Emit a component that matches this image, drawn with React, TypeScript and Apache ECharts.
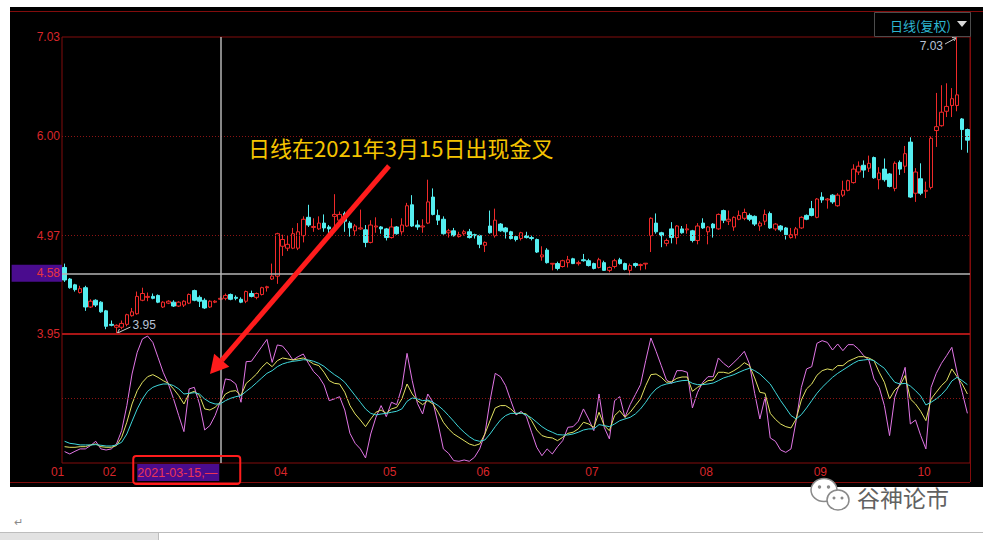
import React, { useEffect, useRef } from 'react';
import * as echarts from 'echarts';

// ---- trading calendar (month -> trading days) ----
const tradingDays: [string, number[]][] = [
  ['2021-01', [25, 26, 27, 28, 29]],
  ['2021-02', [1, 2, 3, 4, 5, 8, 9, 10, 18, 19, 22, 23, 24, 25, 26]],
  ['2021-03', [1, 2, 3, 4, 5, 8, 9, 10, 11, 12, 15, 16, 17, 18, 19, 22, 23, 24, 25, 26, 29, 30, 31]],
  ['2021-04', [1, 2, 6, 7, 8, 9, 12, 13, 14, 15, 16, 19, 20, 21, 22, 23, 26, 27, 28, 29, 30]],
  ['2021-05', [6, 7, 10, 11, 12, 13, 14, 17, 18, 19, 20, 21, 24, 25, 26, 27, 28, 31]],
  ['2021-06', [1, 2, 3, 4, 7, 8, 9, 10, 11, 15, 16, 17, 18, 21, 22, 23, 24, 25, 28, 29, 30]],
  ['2021-07', [1, 2, 5, 6, 7, 8, 9, 12, 13, 14, 15, 16, 19, 20, 21, 22, 23, 26, 27, 28, 29, 30]],
  ['2021-08', [2, 3, 4, 5, 6, 9, 10, 11, 12, 13, 16, 17, 18, 19, 20, 23, 24, 25, 26, 27, 30, 31]],
  ['2021-09', [1, 2, 3, 6, 7, 8, 9, 10, 13, 14, 15, 16, 17, 22, 23, 24, 27, 28, 29, 30]],
  ['2021-10', [8, 11, 12, 13, 14, 15, 18, 19]],
];
const dates: string[] = tradingDays.flatMap(([m, ds]) => ds.map((d) => `${m}-${d < 10 ? '0' + d : d}`));

// month tick labels shown on the bottom axis
const monthTicks = ['2021-01-25', '2021-02-08', '2021-04-01', '2021-05-06', '2021-06-01', '2021-07-01', '2021-08-02', '2021-09-01', '2021-10-08'];
const priceTicks = [3.95, 4.97, 6.0, 7.03];

// ---- daily candles ----
const openP = [
  4.64, 4.52, 4.46, 4.38, 4.43, 4.23, 4.30, 4.28, 4.19, 4.05,
  4.02, 4.02, 4.05, 4.14, 4.16, 4.30, 4.33, 4.34, 4.35, 4.23,
  4.27, 4.28, 4.24, 4.25, 4.27, 4.40, 4.33, 4.30, 4.23, 4.28,
  4.31, 4.32, 4.36, 4.33, 4.31, 4.29, 4.37, 4.33, 4.36, 4.43,
  4.52, 4.55, 4.86, 4.84, 4.84, 4.84, 4.97, 5.16, 5.055, 5.04,
  5.10, 5.06, 5.17, 5.13, 5.20, 5.10, 5.02, 5.04, 5.03, 4.90,
  5.06, 5.06, 5.04, 4.95, 5.06, 5.01, 5.07, 5.29, 5.08, 5.06,
  5.10, 5.37, 5.18, 5.14, 5.00, 5.02, 4.96, 4.99, 5.01, 4.98,
  4.97, 4.87, 5.07, 4.97, 5.09, 5.05, 5.01, 4.96, 4.94, 4.97,
  4.95, 4.93, 4.75, 4.82, 4.675, 4.68, 4.65, 4.69, 4.73, 4.68,
  4.72, 4.71, 4.68, 4.64, 4.69, 4.61, 4.65, 4.72, 4.68, 4.61,
  4.68, 4.66, 4.676, 4.97, 5.10, 5.00, 4.89, 5.04, 4.95, 5.04,
  5.03, 5.02, 4.92, 5.10, 5.01, 5.09, 5.04, 5.23, 5.12, 5.06,
  5.14, 5.15, 5.18, 5.17, 5.07, 5.12, 5.20, 5.04, 5.07, 5.05,
  4.95, 4.98, 5.05, 5.18, 5.25, 5.16, 5.37, 5.34, 5.39, 5.28,
  5.39, 5.44, 5.52, 5.63, 5.70, 5.67, 5.78, 5.55, 5.66, 5.61,
  5.46, 5.73, 5.69, 5.94, 5.41, 5.56, 5.43, 5.47, 6.06, 6.11,
  6.26, 6.32, 6.32, 6.18, 6.07,
];
const closeP = [
  4.51, 4.43, 4.41, 4.42, 4.23, 4.29, 4.25, 4.18, 4.03, 4.04,
  4.04, 4.06, 4.15, 4.18, 4.34, 4.37, 4.34, 4.32, 4.28, 4.28,
  4.29, 4.24, 4.28, 4.29, 4.36, 4.30, 4.29, 4.22, 4.29, 4.29,
  4.32, 4.35, 4.31, 4.32, 4.28, 4.39, 4.34, 4.37, 4.43, 4.44,
  4.55, 4.99, 4.93, 4.88, 4.99, 5.01, 5.14, 5.08, 5.065, 5.10,
  5.05, 5.04, 5.19, 5.19, 5.12, 5.05, 5.07, 5.05, 4.90, 5.08,
  5.07, 5.04, 4.95, 5.06, 4.99, 5.08, 5.28, 5.07, 5.06, 5.07,
  5.32, 5.19, 5.13, 4.99, 5.02, 4.97, 4.98, 5.01, 4.95, 4.97,
  4.88, 4.90, 5.00, 5.13, 5.02, 5.01, 4.94, 4.93, 5.00, 4.95,
  4.94, 4.80, 4.77, 4.69, 4.683, 4.63, 4.71, 4.72, 4.68, 4.69,
  4.71, 4.66, 4.63, 4.72, 4.61, 4.64, 4.71, 4.68, 4.62, 4.66,
  4.66, 4.67, 4.684, 5.15, 5.01, 4.97, 4.92, 4.95, 5.07, 5.00,
  5.04, 4.92, 5.07, 5.05, 5.06, 5.05, 5.19, 5.13, 5.14, 5.16,
  5.18, 5.21, 5.14, 5.09, 5.10, 5.19, 5.05, 5.09, 5.03, 4.98,
  4.98, 5.04, 5.16, 5.14, 5.18, 5.35, 5.34, 5.35, 5.32, 5.39,
  5.44, 5.54, 5.66, 5.69, 5.65, 5.72, 5.57, 5.62, 5.55, 5.48,
  5.72, 5.66, 5.82, 5.37, 5.63, 5.41, 5.44, 5.98, 6.10, 6.25,
  6.31, 6.39, 6.43, 6.07, 5.96,
];
const lowP = [
  4.49, 4.42, 4.39, 4.37, 4.19, 4.22, 4.23, 4.17, 4.00, 4.03,
  3.95, 4.00, 4.03, 4.13, 4.15, 4.29, 4.29, 4.31, 4.27, 4.22,
  4.26, 4.23, 4.23, 4.23, 4.26, 4.29, 4.23, 4.21, 4.22, 4.27,
  4.30, 4.30, 4.30, 4.30, 4.27, 4.27, 4.33, 4.31, 4.35, 4.39,
  4.51, 4.47, 4.76, 4.81, 4.83, 4.82, 4.90, 5.06, 5.01, 5.03,
  5.01, 4.96, 5.06, 5.10, 5.01, 4.96, 4.97, 5.03, 4.85, 4.89,
  5.00, 4.99, 4.92, 4.94, 4.98, 4.98, 5.06, 5.06, 5.03, 5.00,
  5.09, 5.18, 5.08, 4.98, 4.95, 4.96, 4.95, 4.97, 4.94, 4.94,
  4.84, 4.80, 4.99, 4.95, 5.01, 4.94, 4.93, 4.91, 4.92, 4.94,
  4.92, 4.79, 4.71, 4.68, 4.61, 4.61, 4.64, 4.64, 4.675, 4.66,
  4.70, 4.65, 4.62, 4.63, 4.605, 4.59, 4.63, 4.67, 4.61, 4.56,
  4.64, 4.61, 4.62, 4.80, 4.99, 4.85, 4.86, 4.89, 4.88, 4.99,
  4.99, 4.90, 4.88, 5.04, 4.88, 4.95, 5.03, 5.10, 5.08, 5.02,
  5.13, 5.13, 5.12, 5.07, 5.02, 5.08, 5.04, 5.02, 5.01, 4.93,
  4.94, 4.94, 5.04, 5.13, 5.17, 5.15, 5.31, 5.25, 5.30, 5.27,
  5.37, 5.43, 5.51, 5.60, 5.57, 5.63, 5.56, 5.45, 5.53, 5.47,
  5.43, 5.60, 5.62, 5.36, 5.32, 5.39, 5.36, 5.45, 5.89, 6.10,
  6.20, 6.20, 6.26, 5.86, 5.83,
];
const highP = [
  4.68, 4.53, 4.47, 4.45, 4.45, 4.31, 4.31, 4.29, 4.20, 4.09,
  4.05, 4.09, 4.16, 4.22, 4.39, 4.43, 4.38, 4.37, 4.36, 4.29,
  4.30, 4.30, 4.29, 4.30, 4.37, 4.41, 4.35, 4.32, 4.30, 4.30,
  4.34, 4.37, 4.37, 4.35, 4.33, 4.40, 4.40, 4.38, 4.44, 4.45,
  4.68, 5.00, 4.98, 4.97, 5.05, 5.10, 5.17, 5.29, 5.15, 5.17,
  5.19, 5.08, 5.40, 5.22, 5.22, 5.12, 5.09, 5.24, 5.08, 5.13,
  5.16, 5.07, 5.05, 5.15, 5.07, 5.15, 5.31, 5.39, 5.13, 5.14,
  5.55, 5.46, 5.24, 5.17, 5.04, 5.05, 5.01, 5.03, 5.04, 4.99,
  4.98, 4.91, 5.23, 5.25, 5.10, 5.06, 5.02, 4.97, 5.01, 5.01,
  4.97, 4.94, 4.86, 4.84, 4.685, 4.70, 4.72, 4.76, 4.74, 4.71,
  4.78, 4.73, 4.69, 4.74, 4.71, 4.65, 4.73, 4.74, 4.69, 4.68,
  4.69, 4.68, 4.686, 5.16, 5.20, 5.01, 4.94, 5.11, 5.08, 5.07,
  5.09, 5.03, 5.10, 5.15, 5.07, 5.10, 5.20, 5.24, 5.23, 5.17,
  5.23, 5.25, 5.20, 5.18, 5.12, 5.24, 5.22, 5.10, 5.08, 5.06,
  5.05, 5.06, 5.17, 5.19, 5.33, 5.36, 5.42, 5.36, 5.40, 5.41,
  5.54, 5.55, 5.71, 5.74, 5.75, 5.80, 5.79, 5.68, 5.77, 5.62,
  5.74, 5.75, 5.90, 5.99, 5.67, 5.72, 5.53, 6.00, 6.45, 6.53,
  6.55, 6.50, 7.03, 6.19, 6.08,
];

// ---- KDJ indicator ----
const kLine = [
  5.2, 4.6, 4.6, 5.2, 5.2, 6.8, 7.7, 5.2, 4.6, 4.6,
  6.2, 13.9, 27.9, 44.9, 57.3, 65.1, 70.3, 72.2, 69.7, 66.6,
  64.1, 58.9, 52.7, 44.9, 54.8, 56.7, 52.7, 40.3, 39.3, 41.8,
  46.5, 54.2, 56.7, 57.3, 52.7, 64.1, 68.2, 72.8, 79, 83.6,
  79.6, 85.2, 87.7, 86.8, 85.8, 86.8, 87.7, 85.2, 82.1, 80.6,
  74.4, 66.6, 64.1, 63.5, 55.8, 43.4, 35.6, 30, 23.8, 31,
  37.2, 39.3, 36.2, 40.3, 41.8, 49.6, 63.5, 54.2, 48, 44.3,
  48, 44.9, 37.2, 27.9, 21.7, 17, 13.9, 10.8, 7.7, 6.2,
  7.7, 17, 29.4, 41.2, 43.4, 43.4, 40.3, 35.6, 36.5, 35.6,
  29.4, 20.7, 15.5, 13.9, 13.3, 10.8, 13.9, 17.6, 18.6, 21.7,
  27.9, 26.3, 23.2, 37.2, 24.8, 20.1, 34.1, 38.7, 32.5, 37.2,
  43.4, 49.6, 62, 72.2, 72.8, 69.7, 65.1, 65.7, 68.8, 70,
  70, 56.7, 60.4, 63.5, 66.6, 67.2, 74.4, 74.4, 73.4, 75.9,
  79, 83.3, 80.6, 69.1, 55.8, 54.8, 36.2, 30.6, 26.3, 23.8,
  22.6, 31, 48.6, 58.9, 63.5, 71.6, 75.9, 77.5, 76.5, 80.6,
  80.6, 84.6, 86.8, 88.9, 88.9, 87.7, 85.2, 74.4, 65.1, 49.6,
  57.9, 62, 71.3, 49.6, 44.9, 38.1, 29.4, 49.6, 55.8, 62,
  66.6, 77.5, 70.3, 63.5, 54.2,
];
const dLine = [
  10.2, 8.3, 7.7, 6.8, 6.8, 6.8, 7.1, 6.5, 5.8, 5.8,
  6.8, 9.3, 17, 28.8, 40.3, 49.6, 56.7, 60.4, 62.3, 63.5,
  63.5, 62, 58.9, 54.2, 54.8, 55.4, 54.2, 49.6, 46.5, 44.9,
  44.9, 48, 50.2, 51.7, 52.7, 56.7, 60.4, 64.7, 69.1, 73.4,
  75.9, 79.6, 82.1, 83.6, 84.6, 85.2, 86.1, 85.8, 84.6, 82.7,
  79.9, 75.9, 72.2, 69.1, 65.1, 58.9, 52.7, 46.5, 40.3, 36.2,
  34.7, 35.6, 36.2, 37.2, 38.1, 40.3, 47.4, 50.5, 49.6, 48,
  48.6, 46.5, 43.4, 39.3, 34.1, 28.8, 23.2, 18.6, 14.5, 11.4,
  10.2, 11.4, 17, 23.8, 30, 34.1, 36.2, 36.2, 36.5, 34.7,
  31.9, 27.9, 23.8, 20.7, 18.6, 16.4, 16.1, 16.1, 17, 18.6,
  20.7, 21.7, 21.7, 25.7, 24.8, 23.8, 26.3, 29.4, 31, 32.5,
  35.6, 40.3, 46.5, 53.6, 58.9, 62, 63.5, 64.4, 65.7, 66.6,
  66.9, 64.1, 62.9, 62.9, 63.5, 64.4, 66.6, 69.1, 70.6, 72.2,
  74.4, 76.5, 78.1, 75.9, 72.8, 68.2, 63.5, 55.8, 48, 41.2,
  34.1, 31, 35, 41.2, 48, 54.8, 60.4, 65.1, 69.7, 73.4,
  76.5, 79.6, 82.7, 85.2, 85.8, 86.4, 85.2, 81.5, 78.1, 71.3,
  65.1, 63.5, 64.1, 61.6, 57.3, 52.3, 44, 46.5, 49.6, 53.6,
  58.9, 66.3, 69.7, 66.6, 62.9,
];
const jLine = [
  0.6, -1.6, 0.9, 3.1, 3.1, 6.2, 10.2, 3.1, 2.1, 3.1,
  7.7, 20.1, 43.4, 72.8, 93, 105.4, 108.1, 102.2, 88.3, 74.4,
  63.5, 49.6, 34.1, 19.2, 58.9, 60.4, 44.9, 20.7, 24.8, 34.1,
  47.1, 68.2, 67.2, 63.5, 46.5, 84.3, 84.6, 91.4, 98.2, 105,
  83.6, 99.8, 98.8, 93, 85.8, 88.9, 91.4, 82.7, 75, 70.3,
  62.6, 48, 49.6, 51.7, 39.3, 17.6, 8.3, 3.1, -5.3, 17,
  32.5, 43.4, 33.1, 46.5, 44.3, 60.4, 92, 66.6, 45.5, 35.6,
  54.2, 46.5, 26.3, 3.1, -1, -7.8, -8.4, -7.2, -8.4, -4.7,
  3.1, 17, 48, 73.4, 70.3, 62, 48, 34.7, 38.1, 33.1,
  18.6, 4.6, -3.2, 3.1, -1.6, 5.2, 10.8, 23.2, 23.8, 28.8,
  40.3, 31, 20.1, 54.2, 23.2, 12.4, 48, 51.7, 32.5, 44.3,
  53.6, 62.9, 85.2, 106.3, 93.9, 80.6, 67.2, 64.1, 75.9, 75.9,
  74.4, 41.2, 55.8, 65.1, 70.3, 70.3, 87.7, 82.7, 79, 83.6,
  88.3, 93.9, 82.1, 54.8, 31, 51.1, 13.3, 10.2, 2.1, -0.1,
  3.1, 29.4, 60.4, 77.5, 79.6, 101.3, 103.8, 102.2, 95.1, 100.7,
  94.5, 100.1, 100.1, 96, 89.9, 85.8, 68.2, 60.4, 43.4, 15.5,
  51.1, 64.1, 79, 26.3, 30, 15.5, 3.1, 60.4, 73.4, 82.7,
  89.9, 97.6, 74.4, 55.8, 36.2,
];

const crossDate = '2021-03-15';
const crossPrice = 4.58;
const noteText = '日线在2021年3月15日出现金叉';
const periodText = '日线(复权)';
const watermarkText = '谷神论市';

const RED = '#f02a2a';
const CYAN = '#55eef0';
const FRAME = '#820c0c';
const LABEL_RED = '#d8262a';
const CROSS = '#b4b4b4';
const DOTTED = '#8c1414';
const CJK = '"Noto Sans CJK SC", "Noto Sans", sans-serif';
const LATIN = 'Arial, "Liberation Sans", sans-serif';

export default function App() {
  const ref = useRef<HTMLDivElement>(null);

  useEffect(() => {
    if (!ref.current) return;
    const chart = echarts.init(ref.current, null, { renderer: 'svg' });
    const candleData = dates.map((_, i) => [openP[i], closeP[i], lowP[i], highP[i]]);

    const option: any = {
      animation: false,
      backgroundColor: 'transparent',
      textStyle: { fontFamily: LATIN },
      grid: [
        { left: 62, right: 13, top: 37, height: 297, show: true, borderColor: FRAME, borderWidth: 1, backgroundColor: 'transparent' },
        { left: 62, right: 13, top: 334, height: 129, show: true, borderColor: FRAME, borderWidth: 1, backgroundColor: 'transparent' },
      ],
      xAxis: [
        {
          type: 'category', gridIndex: 0, data: dates, boundaryGap: true,
          axisLine: { show: false }, axisTick: { show: false }, axisLabel: { show: false }, splitLine: { show: false },
        },
        {
          type: 'category', gridIndex: 1, data: dates, boundaryGap: true,
          axisLine: { show: false }, axisTick: { show: false }, splitLine: { show: false },
          axisLabel: {
            interval: (_idx: number, val: string) => monthTicks.includes(val),
            formatter: (val: string) => val.slice(5, 7),
            color: LABEL_RED, fontSize: 12, fontFamily: LATIN, margin: 3, padding: [0, 14, 0, 0],
          },
        },
      ],
      yAxis: [
        {
          type: 'value', gridIndex: 0, min: 3.95, max: 7.03,
          axisLine: { show: false }, axisTick: { show: false }, splitLine: { show: false },
          axisLabel: { customValues: priceTicks, formatter: (v: number) => v.toFixed(2), color: LABEL_RED, fontSize: 12, fontFamily: LATIN, margin: 2 },
        },
        {
          type: 'value', gridIndex: 1, min: -10, max: 110,
          axisLine: { show: false }, axisTick: { show: false }, splitLine: { show: false }, axisLabel: { show: false },
        },
      ],
      series: [
        {
          type: 'candlestick', name: 'K', xAxisIndex: 0, yAxisIndex: 0, data: candleData, barWidth: 4,
          itemStyle: { color: '#000000', color0: CYAN, borderColor: RED, borderColor0: CYAN, borderWidth: 1 },
          markLine: {
            silent: true, symbol: ['none', 'none'], animation: false,
            label: { show: false },
            data: [
              { yAxis: 6.0, lineStyle: { color: DOTTED, type: [1, 2], width: 1 } },
              { yAxis: 4.97, lineStyle: { color: DOTTED, type: [1, 2], width: 1 } },
              { yAxis: 3.95, lineStyle: { color: '#a81616', type: 'solid', width: 2 } },
              {
                yAxis: crossPrice, lineStyle: { color: CROSS, type: 'solid', width: 1.5 },
                label: {
                  show: true, position: 'start', distance: 0, formatter: crossPrice.toFixed(2),
                  backgroundColor: '#4a0c8e', color: '#e8343e', fontSize: 12, fontFamily: LATIN,
                  padding: [3, 2, 2, 25],
                },
              },
              { xAxis: crossDate, lineStyle: { color: CROSS, type: 'solid', width: 1.5 } },
            ],
          },
          z: 3,
        },
        {
          type: 'line', name: 'J', xAxisIndex: 1, yAxisIndex: 1, data: jLine, symbol: 'none',
          lineStyle: { color: '#e276e6', width: 1 }, z: 3,
        },
        {
          type: 'line', name: 'KDJ-K', xAxisIndex: 1, yAxisIndex: 1, data: kLine, symbol: 'none',
          lineStyle: { color: '#e2e262', width: 1 }, z: 4,
          markLine: {
            silent: true, symbol: ['none', 'none'], animation: false, label: { show: false },
            data: [
              { yAxis: 50, lineStyle: { color: DOTTED, type: [1, 2], width: 1 } },
              { xAxis: crossDate, lineStyle: { color: CROSS, type: 'solid', width: 1.5 } },
            ],
          },
        },
        {
          type: 'line', name: 'D', xAxisIndex: 1, yAxisIndex: 1, data: dLine, symbol: 'none',
          lineStyle: { color: '#3fd6da', width: 1 }, z: 5,
        },
      ],
    };
    chart.setOption(option);

    // positions derived from the chart's own scales
    const crossX = chart.convertToPixel({ xAxisIndex: 1 }, crossDate) as number;
    const lowIdx = lowP.indexOf(Math.min(...lowP));
    const highIdx = highP.indexOf(Math.max(...highP));
    const lowPt = chart.convertToPixel({ gridIndex: 0 }, [lowIdx, lowP[lowIdx]]) as number[];
    const highPt = chart.convertToPixel({ gridIndex: 0 }, [highIdx, highP[highIdx]]) as number[];

    // annotation arrow geometry
    const tip = [210, 374];
    const ux = -0.652, uy = 0.759;
    const nx = 0.759, ny = 0.652;
    const base = [tip[0] - 18 * ux, tip[1] - 18 * uy];

    const graphics: any[] = [
      // frame lines
      { type: 'line', shape: { x1: 10, y1: 11.5, x2: 983, y2: 11.5 }, style: { stroke: FRAME, lineWidth: 1 }, silent: true },
      { type: 'line', shape: { x1: 970.5, y1: 11, x2: 970.5, y2: 482 }, style: { stroke: FRAME, lineWidth: 1 }, silent: true },
      { type: 'line', shape: { x1: 10, y1: 482.5, x2: 970, y2: 482.5 }, style: { stroke: FRAME, lineWidth: 1 }, silent: true },
      // period selector
      { type: 'rect', shape: { x: 874.5, y: 12.5, width: 96, height: 24 }, style: { fill: '#000', stroke: '#4c4c4c', lineWidth: 1 } },
      {
        type: 'text', x: 890, y: 25,
        style: { text: periodText, fill: '#2db6d0', font: `13px ${CJK}`, textAlign: 'left', textVerticalAlign: 'middle' },
      },
      { type: 'polygon', shape: { points: [[957, 21], [967, 21], [962, 27]] }, style: { fill: '#d8d8d8' } },
      // high / low annotations
      {
        type: 'text', x: highPt[0] - 14, y: highPt[1] + 9,
        style: { text: highP[highIdx].toFixed(2), fill: '#b8c2d6', font: `12px ${LATIN}`, textAlign: 'right', textVerticalAlign: 'middle' },
      },
      { type: 'line', shape: { x1: highPt[0] - 12, y1: highPt[1] + 7, x2: highPt[0] - 1, y2: highPt[1] + 1 }, style: { stroke: '#c8c8c8', lineWidth: 1 } },
      { type: 'polyline', shape: { points: [[highPt[0] - 5, highPt[1] + 0.5], [highPt[0] - 1, highPt[1] + 1], [highPt[0] - 3, highPt[1] + 4]] }, style: { stroke: '#c8c8c8', lineWidth: 1, fill: null } },
      {
        type: 'text', x: lowPt[0] + 16, y: lowPt[1] - 9,
        style: { text: lowP[lowIdx].toFixed(2), fill: '#b8c2d6', font: `12px ${LATIN}`, textAlign: 'left', textVerticalAlign: 'middle' },
      },
      { type: 'line', shape: { x1: lowPt[0] + 14, y1: lowPt[1] - 7, x2: lowPt[0] + 1, y2: lowPt[1] - 1 }, style: { stroke: '#c8c8c8', lineWidth: 1 } },
      { type: 'polyline', shape: { points: [[lowPt[0] + 3, lowPt[1] - 5], [lowPt[0] + 1, lowPt[1] - 1], [lowPt[0] + 5, lowPt[1] - 0.5]] }, style: { stroke: '#c8c8c8', lineWidth: 1, fill: null } },
      // date tag on the crosshair
      { type: 'rect', shape: { x: crossX - 83, y: 464, width: 82, height: 17 }, style: { fill: '#4a0c8e' }, z: 10 },
      {
        type: 'text', x: crossX - 3, y: 473, z: 11,
        style: { text: crossDate + ',—', fill: '#ec3556', font: `12.5px ${LATIN}`, textAlign: 'right', textVerticalAlign: 'middle' },
      },
      { type: 'rect', shape: { x: crossX - 87, y: 456, width: 107, height: 28, r: 3 }, style: { fill: null, stroke: '#ff1c1c', lineWidth: 2 }, z: 12 },
      // note + arrow
      {
        type: 'text', x: 248, y: 147, z: 20,
        style: { text: noteText, fill: '#f5c400', font: `22px ${CJK}`, textAlign: 'left', textVerticalAlign: 'middle' },
      },
      { type: 'line', shape: { x1: 389, y1: 166, x2: base[0], y2: base[1] }, style: { stroke: '#ff1c1c', lineWidth: 5 }, z: 20 },
      {
        type: 'polygon', z: 20,
        shape: { points: [tip, [base[0] + 10 * nx, base[1] + 10 * ny], [base[0] - 10 * nx, base[1] - 10 * ny]] },
        style: { fill: '#ff1c1c' },
      },
      // watermark (WeChat logo + name)
      { type: 'ellipse', shape: { cx: 824, cy: 490, rx: 13, ry: 11.5 }, style: { fill: '#ffffff', stroke: '#8a8a8a', lineWidth: 1.5 } },
      { type: 'circle', shape: { cx: 819.5, cy: 487, r: 1.7 }, style: { fill: '#8a8a8a' } },
      { type: 'circle', shape: { cx: 828.5, cy: 487, r: 1.7 }, style: { fill: '#8a8a8a' } },
      { type: 'ellipse', shape: { cx: 838, cy: 500, rx: 11, ry: 10 }, style: { fill: '#ffffff', stroke: '#8a8a8a', lineWidth: 1.5 } },
      { type: 'circle', shape: { cx: 834, cy: 498, r: 1.5 }, style: { fill: '#8a8a8a' } },
      { type: 'circle', shape: { cx: 842, cy: 498, r: 1.5 }, style: { fill: '#8a8a8a' } },
      {
        type: 'text', x: 857, y: 497,
        style: { text: watermarkText, fill: '#626262', font: `23px ${CJK}`, textAlign: 'left', textVerticalAlign: 'middle' },
      },
      // page bits below the screenshot
      { type: 'text', x: 14, y: 522, style: { text: '↵', fill: '#8a8a8a', font: `11px ${LATIN}`, textAlign: 'left', textVerticalAlign: 'middle' } },
      { type: 'rect', shape: { x: 0, y: 533, width: 158, height: 7 }, style: { fill: '#e2e2e2' } },
      { type: 'line', shape: { x1: 0, y1: 532.5, x2: 983, y2: 532.5 }, style: { stroke: '#bdbdbd', lineWidth: 1 } },
      { type: 'line', shape: { x1: 158.5, y1: 533, x2: 158.5, y2: 540 }, style: { stroke: '#bdbdbd', lineWidth: 1 } },
    ];
    chart.setOption({ graphic: graphics });

    return () => chart.dispose();
  }, []);

  return (
    <div style={{ position: 'fixed', left: 0, top: 0, width: 983, height: 540, background: '#ffffff', overflow: 'hidden' }}>
      <div style={{ position: 'absolute', left: 10, top: 7, width: 973, height: 480, background: '#000000' }} />
      <div ref={ref} style={{ position: 'absolute', left: 0, top: 0, width: 983, height: 540 }} />
    </div>
  );
}
